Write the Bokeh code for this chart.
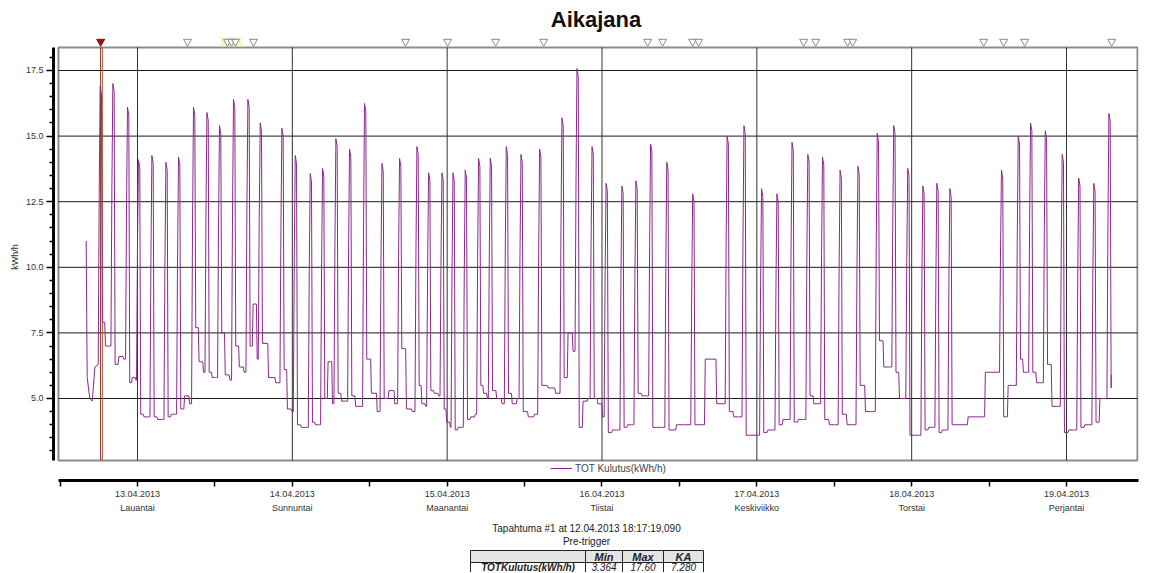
from bokeh.plotting import figure
from bokeh.models import FixedTicker, Range1d
from bokeh.layouts import column
from bokeh.embed import file_html
from bokeh.resources import INLINE
from bokeh.core.properties import value

FONT = "Liberation Sans"

# ---------------- data (hours since 12.04.2013 00:00, kWh/h) ----------------
head_h = [16.05, 16.20, 16.60, 17.00, 17.40]
head_v = [11.0, 5.8, 5.0, 4.9, 6.2]

peak_h = [18.26, 20.23, 22.50, 24.20, 26.28, 28.45, 30.41, 32.73, 34.81, 36.76,
          38.93, 41.16, 43.07, 46.43, 48.50, 50.82, 52.73, 54.80, 56.92, 59.24,
          61.94, 64.67, 67.36, 69.17, 71.24, 72.95, 74.85, 76.92, 78.73, 81.21,
          83.49, 86.38, 89.84, 92.17, 94.50, 96.68, 99.13, 101.30, 103.58, 106.09,
          110.11, 115.44, 118.05, 120.78, 123.16, 125.50, 127.95, 130.23, 132.95, 135.72,
          138.71, 141.27, 143.44, 145.78, 147.95, 149.97, 157.97, 160.57, 162.48, 164.76,
          167.38, 169.94, 172.28, 174.62]
peak_v = [16.9, 17.0, 16.1, 14.1, 14.26, 14.0, 14.2, 16.1, 15.9, 15.4,
          16.4, 16.4, 15.5, 15.3, 14.26, 13.57, 13.77, 14.9, 14.5, 16.24,
          13.96, 14.15, 14.6, 13.6, 13.6, 13.6, 13.7, 14.15, 14.15, 14.6,
          14.3, 14.5, 15.7, 17.57, 14.6, 13.2, 13.1, 13.3, 14.7, 14.0,
          12.8, 15.0, 15.4, 13.0, 12.8, 14.76, 14.3, 14.2, 13.7, 13.85,
          15.1, 15.4, 13.77, 13.1, 13.2, 13.0, 13.7, 15.0, 15.5, 15.2,
          14.3, 13.4, 13.2, 15.86]
before_v = [6.3, 7.0, 6.5, 5.7, 4.3, 4.2, 4.4, 4.8, 6.0, 5.8,
            5.7, 6.0, 6.5, 5.6, 4.5, 3.9, 4.0, 4.8, 4.9, 4.7,
            4.5, 4.8, 4.5, 4.7, 5.1, 3.9, 3.9, 4.4, 5.0, 4.8,
            5.0, 4.4, 5.2, 6.8, 5.0, 4.3, 3.8, 4.0, 5.1, 3.9,
            4.0, 4.8, 4.3, 3.6, 3.8, 4.2, 4.2, 4.8, 4.0, 4.0,
            4.5, 6.2, 5.0, 3.6, 3.9, 3.8, 6.0, 5.5, 6.0, 5.6,
            4.7, 3.8, 4.0, 5.0]
after_v = [7.9, 6.3, 5.6, 4.4, 4.3, 4.3, 4.6, 7.7, 6.0, 7.5,
           7.0, 7.0, 7.1, 6.1, 4.0, 4.1, 5.0, 5.2, 5.1, 6.5,
           5.0, 6.9, 5.5, 5.3, 4.6, 3.8, 4.2, 5.5, 5.3, 5.2,
           4.5, 5.5, 5.8, 3.9, 5.0, 3.7, 3.9, 5.2, 3.9, 3.8,
           4.0, 4.5, 3.6, 3.7, 4.0, 4.1, 5.1, 4.2, 4.4, 5.5,
           7.2, 6.0, 3.6, 3.8, 3.7, 4.0, 4.3, 6.5, 6.0, 6.3,
           3.7, 3.9, 4.1, 5.4]
mid_v = [7.0, 6.6, 5.8, 4.3, 4.2, 4.4, 5.1, 6.4, 5.8, 5.9,
         6.2, 8.6, 5.8, 4.6, 3.9, 4.0, 6.4, 4.9, 4.7, 5.2,
         5.3, 4.6, 4.8, 5.2, 4.1, 3.9, 4.3, 5.2, 5.0, 4.8,
         4.3, 5.4, 7.5, 4.9, 4.8, 3.8, 4.0, 5.1, 3.9, 4.0,
         6.5, 4.3, 3.6, 3.8, 4.2, 4.2, 4.8, 4.0, 4.0, 4.5,
         6.2, 5.0, 3.6, 3.9, 3.8, 4.3, 5.5, 6.0, 5.6, 4.7,
         3.8, 4.0, 5.0]
tail_h = [174.95]
tail_v = [5.9]

# event markers along the top (hours)
event_h = [31.75, 37.95, 38.57, 39.19, 41.98, 65.55, 72.06, 79.50, 86.95, 103.07,
           105.40, 110.05, 110.98, 127.26, 129.12, 134.08, 134.85, 155.16, 158.26,
           161.52, 175.01]
trigger_h = [18.29]   # Tapahtuma #1 at 12.04.2013 18:17:19,090

day_ticks = [24, 48, 72, 96, 120, 144, 168]
day_labels = ["13.04.2013\nLauantai", "14.04.2013\nSunnuntai", "15.04.2013\nMaanantai",
              "16.04.2013\nTiistai", "17.04.2013\nKeskiviikko", "18.04.2013\nTorstai",
              "19.04.2013\nPerjantai"]
half_ticks = [12, 36, 60, 84, 108, 132, 156]
y_ticks = [5.0, 7.5, 10.0, 12.5, 15.0, 17.5]
y_labels = ["5.0", "7.5", "10.0", "12.5", "15.0", "17.5"]
y_minor = [3.0, 3.5, 4.0, 4.5, 5.5, 6.0, 6.5, 7.0, 8.0, 8.5, 9.0, 9.5, 10.5, 11.0, 11.5,
           12.0, 13.0, 13.5, 14.0, 14.5, 15.5, 16.0, 16.5, 17.0, 18.0]

stat_names = ["Min", "Max", "KA"]
stat_values = ["3.364", "17.60", "7.280"]
series_name = "TOT Kulutus(kWh/h)"

# ---------------- build the polyline from the read values ----------------
xs = list(head_h)
ys = list(head_v)
for i, (t, pk) in enumerate(zip(peak_h, peak_v)):
    b = before_v[i]
    a = after_v[i]
    xs += [t - 0.35, t - 0.2, t - 0.05, t + 0.15, t + 0.3]
    ys += [b, b + 0.6 * (pk - b), pk, pk - 0.3, a]
    if i < len(mid_v):
        g = peak_h[i + 1] - t
        nb = before_v[i + 1]
        xs += [t + g / 3.0, t + g / 3.0 + 0.12, t + 2 * g / 3.0, t + 2 * g / 3.0 + 0.12]
        ys += [a, mid_v[i], mid_v[i], nb]
xs += tail_h
ys += tail_v

# ---------------- main figure ----------------
X0, X1 = 10.98, 179.16
Y0, Y1 = 1.875, 18.91
BOX_L, BOX_R, BOX_B, BOX_T = 11.75, 179.0, 2.64, 18.38

p = figure(width=1150, height=517, x_range=Range1d(X0, X1), y_range=Range1d(Y0, Y1),
           output_backend="svg", toolbar_location=None,
           min_border_left=53, min_border_right=12, min_border_top=33, min_border_bottom=37)
p.outline_line_color = None
p.xgrid.grid_line_color = None
p.ygrid.grid_line_color = None
p.background_fill_color = "white"

p.title.text = "Aikajana"
p.title.align = "center"
p.title.text_font = FONT
p.title.text_font_size = "22px"
p.title.text_font_style = "bold"
p.title.text_color = "#111111"
p.title.standoff = 3

# frame box
p.quad(left=[BOX_L], right=[BOX_R], bottom=[BOX_B], top=[BOX_T],
       fill_color=None, line_color="#8c8c8c", line_width=2)
# grid lines
p.segment(x0=[BOX_L] * len(y_ticks), y0=y_ticks, x1=[BOX_R] * len(y_ticks), y1=y_ticks,
          line_color="#1a1a1a", line_width=1)
p.segment(x0=day_ticks, y0=[BOX_B] * len(day_ticks), x1=day_ticks, y1=[BOX_T] * len(day_ticks),
          line_color="#333333", line_width=1)

# yellow highlight behind a marker group
p.quad(left=[event_h[1] - 1.1], right=[event_h[3] + 1.1], bottom=[18.42], top=[18.78],
       fill_color="#faf6c6", line_color=None)

# trigger line
p.segment(x0=trigger_h, y0=[BOX_B], x1=trigger_h, y1=[BOX_T], line_color="#7a2418", line_width=1)
p.segment(x0=[trigger_h[0] + 0.3], y0=[BOX_B], x1=[trigger_h[0] + 0.3], y1=[BOX_T],
          line_color="#a8604a", line_width=1)

# series
p.line(xs, ys, line_color="#8a2a8a", line_width=1, legend_label=series_name)

# event markers
p.scatter(event_h, [18.6] * len(event_h), marker="inverted_triangle", size=8,
          fill_color="white", line_color="#8a8a8a", line_width=1)
p.scatter(trigger_h, [18.6], marker="inverted_triangle", size=8,
          fill_color="#a01010", line_color="#801010", line_width=1)

# legend
lg = p.legend[0]
lg.location = (497, 6)
lg.margin = 0
lg.padding = 0
lg.spacing = 0
lg.border_line_color = None
lg.background_fill_alpha = 0
lg.label_text_font = FONT
lg.label_text_font_size = "10px"
lg.label_text_color = "#444444"
lg.label_height = 12
lg.glyph_height = 12
lg.glyph_width = 22
lg.label_standoff = 3

# y axis
ya = p.yaxis[0]
ya.ticker = FixedTicker(ticks=y_ticks, minor_ticks=y_minor)
ya.major_label_overrides = {t: l for t, l in zip(y_ticks, y_labels)}
ya.bounds = (BOX_B, BOX_T)
ya.axis_line_width = 3
ya.axis_line_color = "black"
ya.major_tick_in = 0
ya.major_tick_out = 7
ya.minor_tick_in = 0
ya.minor_tick_out = 4
ya.major_tick_line_width = 1.5
ya.minor_tick_line_width = 1.5
ya.major_label_text_font = FONT
ya.major_label_text_font_size = "9px"
ya.major_label_text_color = "#333333"
ya.major_label_standoff = 3
ya.axis_label = "kWh/h"
ya.axis_label_text_font = FONT
ya.axis_label_text_font_size = "9px"
ya.axis_label_text_font_style = "normal"
ya.axis_label_text_color = "#333333"
ya.axis_label_standoff = 3

# x axis
xa = p.xaxis[0]
all_ticks = sorted(day_ticks + half_ticks)
xa.ticker = FixedTicker(ticks=all_ticks, minor_ticks=[])
overrides = {t: "" for t in half_ticks}
overrides.update({t: l for t, l in zip(day_ticks, day_labels)})
xa.major_label_overrides = overrides
xa.bounds = (BOX_L, X1)
xa.axis_line_width = 3
xa.axis_line_color = "black"
xa.major_tick_in = 0
xa.major_tick_out = 6
xa.major_tick_line_width = 1.5
xa.minor_tick_line_color = None
xa.major_label_text_font = FONT
xa.major_label_text_font_size = "9px"
xa.major_label_text_color = "#333333"
xa.major_label_text_line_height = 1.45
xa.major_label_standoff = 2

# ---------------- caption + table figure ----------------
# its frame is aligned with the main frame (page x 53..1138), so use page pixels
q = figure(width=1150, height=55, x_range=Range1d(53, 1138), y_range=Range1d(572, 517),
           output_backend="svg", toolbar_location=None, min_border=0,
           x_axis_type=None, y_axis_type=None)
q.outline_line_color = None
q.xgrid.visible = False
q.ygrid.visible = False

q.text(x=[586, 586], y=[528, 541],
       text=["Tapahtuma #1 at " + "12.04.2013 18:17:19,090", "Pre-trigger"],
       text_font=value(FONT), text_font_size="10px", text_color="#222222",
       text_align="center", text_baseline="middle")

col_edges = [470, 585, 622, 663, 703]
q.quad(left=[col_edges[0]], right=[col_edges[-1]], top=[550], bottom=[562],
       fill_color="#e4e4e4", line_color="#222222", line_width=1)
q.quad(left=[col_edges[0]], right=[col_edges[-1]], top=[562], bottom=[575],
       fill_color="white", line_color="#222222", line_width=1)
q.segment(x0=col_edges[1:-1], y0=[550] * 3, x1=col_edges[1:-1], y1=[575] * 3,
          line_color="#222222", line_width=1)
centers = [(col_edges[i] + col_edges[i + 1]) / 2 for i in range(1, 4)]
q.text(x=centers, y=[556.5] * 3, text=stat_names, text_font=value(FONT),
       text_font_size="11px", text_font_style="bold italic", text_color="#222222",
       text_align="center", text_baseline="middle")
q.text(x=[(col_edges[0] + col_edges[1]) / 2], y=[566.5], text=["TOTKulutus(kWh/h)"],
       text_font=value(FONT), text_font_size="10px", text_font_style="bold italic",
       text_color="#222222", text_align="center", text_baseline="middle")
q.text(x=centers, y=[566.5] * 3, text=stat_values, text_font=value(FONT),
       text_font_size="10px", text_font_style="italic", text_color="#222222",
       text_align="center", text_baseline="middle")

layout = column(p, q, spacing=0)
open("out.html", "w").write(file_html(layout, INLINE))
